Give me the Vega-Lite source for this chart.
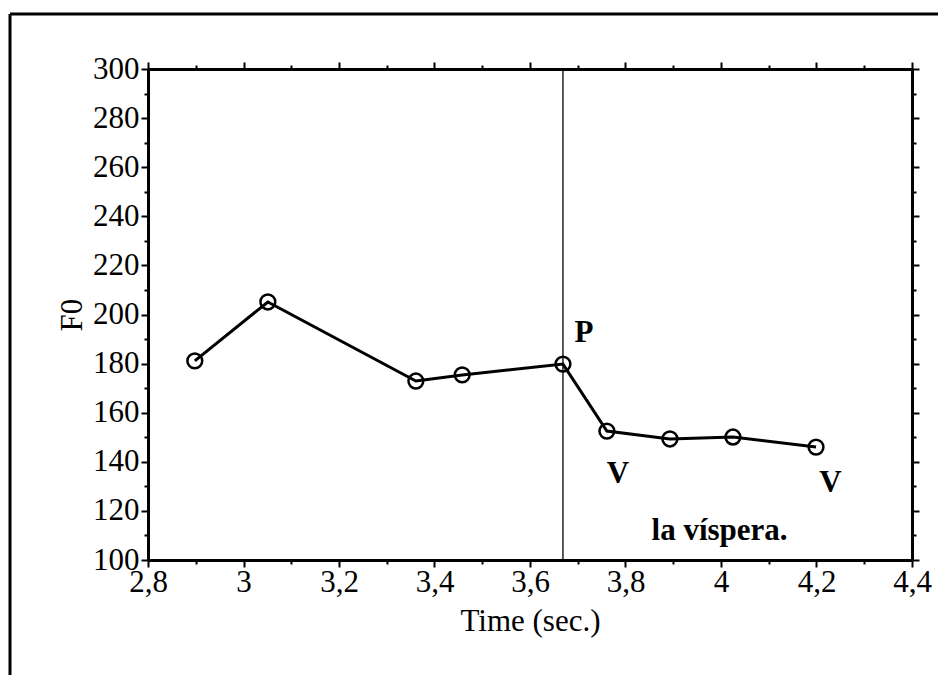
{
  "$schema": "https://vega.github.io/schema/vega-lite/v6.json",
  "width": 764,
  "height": 491,
  "autosize": {"type": "none"},
  "padding": {"left": 148, "top": 69, "right": 26, "bottom": 115},
  "background": "white",
  "config": {
    "view": {"stroke": null},
    "axis": {
      "domainColor": "black",
      "domainWidth": 3,
      "tickColor": "black",
      "tickWidth": 2,
      "labelColor": "black",
      "labelFont": "Liberation Serif",
      "labelFontSize": 31,
      "titleFont": "Liberation Serif",
      "titleFontSize": 31,
      "titleFontWeight": "normal",
      "titleColor": "black",
      "grid": false,
      "labelOverlap": false,
      "labelFlush": false
    }
  },
  "datasets": {
    "f0": [
      {"time": 2.898, "f0": 181.1},
      {"time": 3.051, "f0": 205.1},
      {"time": 3.361, "f0": 172.9},
      {"time": 3.458, "f0": 175.4},
      {"time": 3.669, "f0": 179.8},
      {"time": 3.761, "f0": 152.5},
      {"time": 3.893, "f0": 149.3},
      {"time": 4.025, "f0": 150.1},
      {"time": 4.199, "f0": 146.0}
    ],
    "labels": [
      {"time": 3.713, "f0": 188.9, "label": "P"},
      {"time": 3.784, "f0": 131.4, "label": "V"},
      {"time": 4.229, "f0": 127.8, "label": "V"},
      {"time": 3.997, "f0": 108.1, "label": "la víspera."}
    ],
    "frameTop": [{"x1": 2.511, "x2": 4.47, "y": 322.4}],
    "frameLeft": [{"x": 2.511, "y1": 322.4, "y2": 50}],
    "boundary": [{"time": 3.669, "lo": 100, "hi": 300}]
  },
  "resolve": {"axis": {"x": "independent", "y": "independent"}},
  "layer": [
    {
      "data": {"name": "frameTop"},
      "mark": {"type": "rule", "color": "black", "strokeWidth": 3},
      "encoding": {
        "x": {"field": "x1", "type": "quantitative", "scale": {"domain": [2.8, 4.4], "nice": false, "zero": false}, "axis": null},
        "x2": {"field": "x2"},
        "y": {"field": "y", "type": "quantitative", "scale": {"domain": [100, 300], "nice": false, "zero": false}, "axis": null}
      }
    },
    {
      "data": {"name": "frameLeft"},
      "mark": {"type": "rule", "color": "black", "strokeWidth": 3},
      "encoding": {
        "x": {"field": "x", "type": "quantitative", "scale": {"domain": [2.8, 4.4], "nice": false, "zero": false}, "axis": null},
        "y": {"field": "y1", "type": "quantitative", "scale": {"domain": [100, 300], "nice": false, "zero": false}, "axis": null},
        "y2": {"field": "y2"}
      }
    },
    {
      "data": {"name": "boundary"},
      "mark": {"type": "rule", "color": "black", "strokeWidth": 1.3},
      "encoding": {
        "x": {"field": "time", "type": "quantitative", "scale": {"domain": [2.8, 4.4], "nice": false, "zero": false}, "axis": null},
        "y": {"field": "lo", "type": "quantitative", "scale": {"domain": [100, 300], "nice": false, "zero": false}, "axis": null},
        "y2": {"field": "hi"}
      }
    },
    {
      "data": {"name": "f0"},
      "mark": {"type": "line", "color": "black", "strokeWidth": 3, "point": {"filled": false, "shape": "circle", "size": 220, "stroke": "black", "strokeWidth": 2.5, "fill": null}},
      "encoding": {
        "x": {
          "field": "time", "type": "quantitative",
          "scale": {"domain": [2.8, 4.4], "nice": false, "zero": false},
          "axis": {
            "orient": "bottom",
            "title": "Time (sec.)",
            "titlePadding": 9,
            "values": [2.8, 2.9, 3.0, 3.1, 3.2, 3.3, 3.4, 3.5, 3.6, 3.7, 3.8, 3.9, 4.0, 4.1, 4.2, 4.3, 4.4],
            "labelExpr": "abs(round(datum.value*10)) % 2 == 0 ? replace(format(datum.value, '.1~f'), '.', ',') : ''",
            "tickSize": {"condition": {"test": "abs(round(datum.value*10)) % 2 == 0", "value": 7}, "value": 4},
            "labelPadding": 0
          }
        },
        "y": {
          "field": "f0", "type": "quantitative",
          "scale": {"domain": [100, 300], "nice": false, "zero": false},
          "axis": {
            "orient": "left",
            "title": "F0",
            "titlePadding": 4,
            "values": [100, 110, 120, 130, 140, 150, 160, 170, 180, 190, 200, 210, 220, 230, 240, 250, 260, 270, 280, 290, 300],
            "labelExpr": "datum.value % 20 == 0 ? datum.value : ''",
            "tickSize": {"condition": {"test": "datum.value % 20 == 0", "value": 7}, "value": 4},
            "labelPadding": 2
          }
        }
      }
    },
    {
      "data": {"name": "labels"},
      "mark": {"type": "text", "font": "Liberation Serif", "fontWeight": "bold", "fontSize": 31, "color": "black", "align": "center", "baseline": "alphabetic"},
      "encoding": {
        "text": {"field": "label"},
        "x": {
          "field": "time", "type": "quantitative",
          "scale": {"domain": [2.8, 4.4], "nice": false, "zero": false},
          "axis": {
            "orient": "top",
            "title": null,
            "labels": false,
            "values": [2.8, 2.9, 3.0, 3.1, 3.2, 3.3, 3.4, 3.5, 3.6, 3.7, 3.8, 3.9, 4.0, 4.1, 4.2, 4.3, 4.4],
            "tickSize": {"condition": {"test": "abs(round(datum.value*10)) % 2 == 0", "value": 7}, "value": 4}
          }
        },
        "y": {
          "field": "f0", "type": "quantitative",
          "scale": {"domain": [100, 300], "nice": false, "zero": false},
          "axis": {
            "orient": "right",
            "title": null,
            "labels": false,
            "values": [100, 110, 120, 130, 140, 150, 160, 170, 180, 190, 200, 210, 220, 230, 240, 250, 260, 270, 280, 290, 300],
            "tickSize": {"condition": {"test": "datum.value % 20 == 0", "value": 7}, "value": 4}
          }
        }
      }
    }
  ]
}
